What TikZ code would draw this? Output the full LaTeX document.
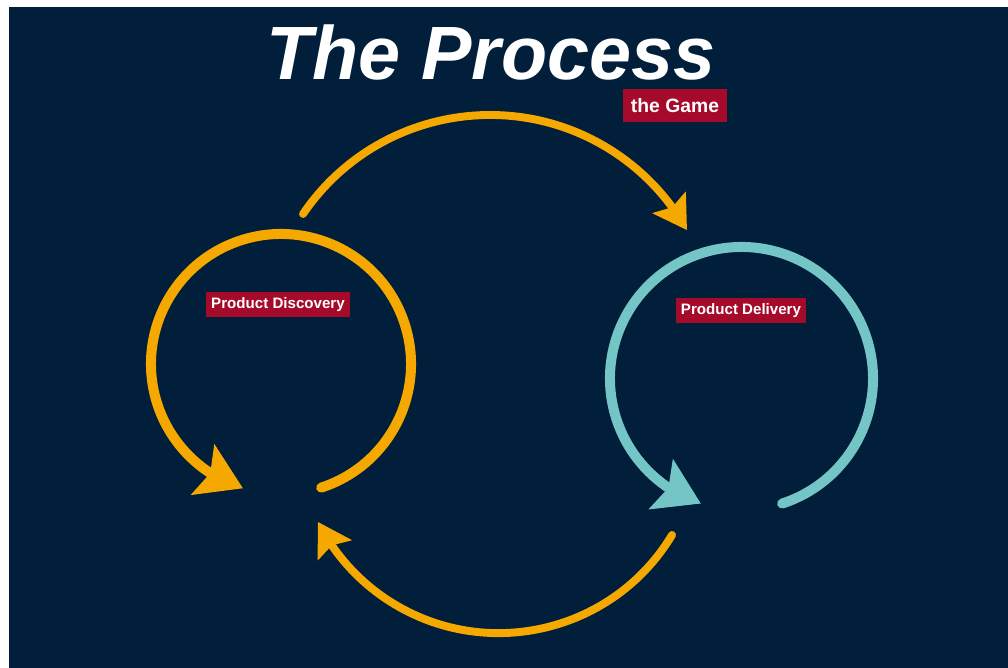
\documentclass[tikz,border=0pt]{standalone}
\usepackage{fontspec}
\setmainfont{Liberation Sans}
\usetikzlibrary{arrows.meta,bending}

\definecolor{navy}{HTML}{011E3A}
\definecolor{gold}{HTML}{F5A800}
\definecolor{loopteal}{HTML}{74C5C6}
\definecolor{tagred}{HTML}{A50A2B}

\tikzset{
every picture/.style={
line cap=round
}}

\begin{document}
\begin{tikzpicture}[x=0.02cm, y=0.02cm,
loop/.style = {line width=5.7pt, -{Stealth[length=25pt, width=31pt, inset=4.5pt]}},
link/.style = {line width=4.5pt, gold, -{Stealth[length=18.5pt, width=22pt, inset=3pt]}},
tag/.style = {fill=tagred, text=white, inner sep=0pt,
  font=\bfseries\fontsize{8.6}{10}\selectfont}]

\useasboundingbox (0,0) rectangle (1008,668);
\fill [white] (0,0) rectangle (1008,668);
\fill [navy] (9,0) rectangle (1008,661);

\node [white, anchor=base, font=\bfseries\itshape\fontsize{43}{48}\selectfont] (title)
  at (491,588) {The Process};

% loop centres
\coordinate (disc) at (281,304);
\coordinate (deliv) at (741.5,289.5);

\draw [loop, gold] (disc) ++(-72:130) arc (-72:253:130);
\draw [loop, loopteal] (deliv) ++(-72:131.5) arc (-72:252:131.5);

% arcs between the loops
\coordinate (over) at (490,326.9);
\coordinate (under) at (498.6,237.3);

\draw [link] (over) ++(145.8:226.1) arc (145.8:29.4:226.1);
\draw [link] (under) ++(-31:202.4) arc (-31:-153.2:202.4);

\node [tag, minimum width=2.88cm, minimum height=0.5cm] (pdisc) at (278,363) {Product Discovery};
\node [tag, minimum width=2.62cm, minimum height=0.5cm] (pdeliv) at (741,357) {Product Delivery};
\node [tag, minimum width=2.08cm, minimum height=0.66cm,
  font=\bfseries\fontsize{11}{13}\selectfont] (game) at (675,562.5) {the Game};

\end{tikzpicture}
\end{document}
